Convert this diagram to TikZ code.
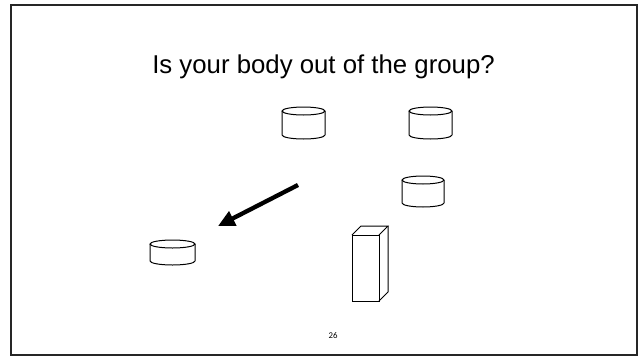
\documentclass[tikz,border=0pt]{standalone}
\usepackage{fontspec}
\setmainfont{Liberation Sans}
\newfontfamily\pagefont{Carlito}
\usetikzlibrary{arrows.meta}
\tikzset{
  frame/.style={line width=0.06cm, draw=black!85},
  title/.style={anchor=base, font=\fontsize{22}{26}\selectfont},
  pagenum/.style={anchor=base, font=\pagefont\fontsize{7.5}{9}\selectfont},
  thin line/.style={line width=0.03cm},
  push arrow/.style={-{Triangle[length=0.5cm, width=0.46cm]}, line width=0.13cm},
  pics/can/.style 2 args={code={
    \draw[thin line] (0,0) ellipse [x radius=#1, y radius=4];
    \draw[thin line] (-#1,0) -- (-#1,#2) arc [start angle=180, end angle=0, x radius=#1, y radius=4] -- (#1,0);
  }}
}

\begin{document}
\begin{tikzpicture}[x=0.03cm, y=-0.03cm]
    \useasboundingbox (0,0) rectangle (639,358);
    \draw[frame] (10.5,5) rectangle (636.5,355);

    \node[title] (question) at (323.5,73) {Is your body out of the group?};

    % the group
    \pic (canA) at (303.5,111) {can={21.5}{24}};
    \pic (canB) at (430.5,111) {can={21.5}{24}};
    \pic (canC) at (423,180) {can={21}{23}};

    % the one outside
    \pic (canD) at (172.5,244) {can={22.5}{17}};

    \coordinate (pushstart) at (298,185);
    \coordinate (pushend) at (218,226);
    \draw[push arrow] (pushstart) -- (pushend);

    % tall box
    \draw[thin line] (352,235) rectangle (379,301);
    \draw[thin line] (352,235) -- (361,226) -- (388,226) -- (379,235);
    \draw[thin line] (388,226) -- (388,292) -- (379,301);

    \node[pagenum] (pageno) at (333,338) {26};
  \end{tikzpicture}
\end{document}
